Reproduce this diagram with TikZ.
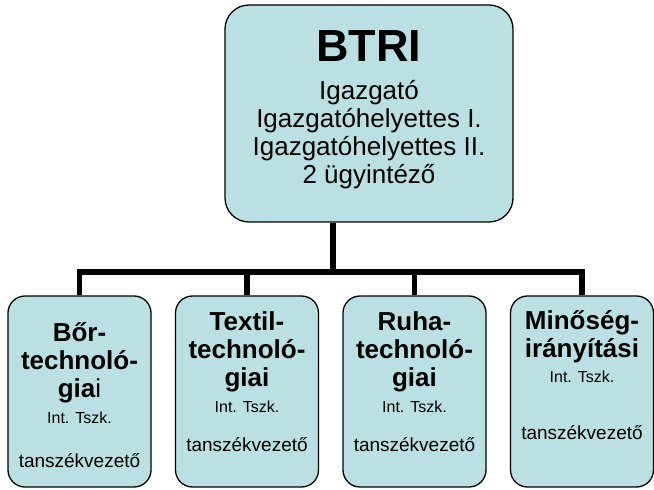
\documentclass[tikz,border=0pt]{standalone}
\usepackage{fontspec}
\setmainfont{Liberation Sans}
\usetikzlibrary{positioning}
\definecolor{unitfill}{RGB}{187,224,227}
\newcommand{\hstrut}[1]{\rule{0pt}{#1}}
\newcommand{\itsz}{\fontsize{16}{18}\selectfont\mdseries}
\newcommand{\tsz}{\fontsize{19}{21}\selectfont\mdseries}
\tikzset{
	orgbox/.style={draw=black, line width=1.3pt, fill=unitfill},
	topbox/.style={orgbox, rounded corners=24pt, minimum width=288pt, minimum height=217pt},
	unitbox/.style={orgbox, rounded corners=17pt, minimum width=143pt, minimum height=191pt},
	toptxt/.style={align=center, anchor=north, inner sep=0pt, font=\fontsize{26}{28}\selectfont},
	unittxt/.style={align=center, anchor=north, inner sep=0pt, font=\fontsize{26}{28}\selectfont\bfseries},
	bus/.style={line width=5.5pt, line join=miter},
}
\begin{document}
\lineskiplimit=-30pt
\begin{tikzpicture}[x=1pt, y=1pt]
	\useasboundingbox (0,0) rectangle (654,490);
	
	% top box
	\node[topbox] (btri) at (369,376.5) {};
	\coordinate (hub) at (333,218);
	
	% the four units
	\node[unitbox] (bor) at (79.5,98.5) {};
	\node[unitbox, right=23.2pt of bor] (tex) {};
	\node[unitbox, right=23.2pt of tex] (ruh) {};
	\node[unitbox, right=23.2pt of ruh] (min) {};
	
	% connectors
	\draw[bus] (hub) -- (hub |- btri.south);
	\draw[bus] (bor.north) |- (hub) -| (min.north);
	\foreach \n in {tex,ruh}
		\draw[bus] (\n.north) -- (\n.north |- hub);
	
	% texts
	\node[toptxt] (btri-t) at ([yshift=-25pt]btri.north)
		{\hstrut{32pt}{\fontsize{45}{50}\selectfont\bfseries BTRI}\\[10pt]
		 Igazgató\\ Igazgatóhelyettes I.\\ Igazgatóhelyettes II.\\ 2 ügyintéző};
	\node[unittxt] (bor-t) at ([yshift=-22pt]bor.north)
		{\hstrut{24pt}Bőr-\\ technoló-\\ gia{\mdseries i}\\[-2pt]
		 {\itsz Int. Tszk.}\\[16pt] {\tsz tanszékvezető}};
	\node[unittxt] (tex-t) at ([yshift=-11pt]tex.north)
		{\hstrut{24pt}Textil-\\ technoló-\\ giai\\[-2pt]
		 {\itsz Int. Tszk.}\\[11pt] {\tsz tanszékvezető}};
	\node[unittxt] (ruh-t) at ([yshift=-11pt]ruh.north)
		{\hstrut{24pt}Ruha-\\ technoló-\\ giai\\[-2pt]
		 {\itsz Int. Tszk.}\\[11pt] {\tsz tanszékvezető}};
	\node[unittxt] (min-t) at ([yshift=-10pt]min.north)
		{\hstrut{24pt}Minőség-\\ irányítási\\[-3pt]
		 {\itsz Int. Tszk.}\\[29pt] {\tsz tanszékvezető}};
\end{tikzpicture}
\end{document}
